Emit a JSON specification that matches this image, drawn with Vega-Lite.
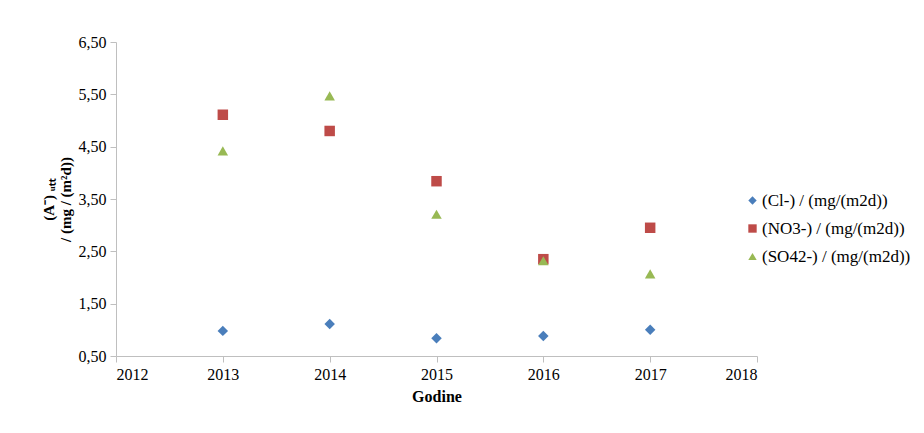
{
  "$schema": "https://vega.github.io/schema/vega-lite/v6.json",
  "autosize": "none",
  "width": 641,
  "height": 314,
  "padding": {"left": 116, "top": 42, "right": 167, "bottom": 77},
  "background": "white",
  "data": {
    "values": [
      {"year": 2013, "series": "(Cl-) / (mg/(m2d))", "value": 0.98},
      {"year": 2014, "series": "(Cl-) / (mg/(m2d))", "value": 1.11},
      {"year": 2015, "series": "(Cl-) / (mg/(m2d))", "value": 0.84},
      {"year": 2016, "series": "(Cl-) / (mg/(m2d))", "value": 0.88},
      {"year": 2017, "series": "(Cl-) / (mg/(m2d))", "value": 1.00},
      {"year": 2013, "series": "(NO3-) / (mg/(m2d))", "value": 5.11},
      {"year": 2014, "series": "(NO3-) / (mg/(m2d))", "value": 4.80},
      {"year": 2015, "series": "(NO3-) / (mg/(m2d))", "value": 3.84},
      {"year": 2016, "series": "(NO3-) / (mg/(m2d))", "value": 2.35},
      {"year": 2017, "series": "(NO3-) / (mg/(m2d))", "value": 2.95},
      {"year": 2013, "series": "(SO42-) / (mg/(m2d))", "value": 4.42},
      {"year": 2014, "series": "(SO42-) / (mg/(m2d))", "value": 5.47},
      {"year": 2015, "series": "(SO42-) / (mg/(m2d))", "value": 3.21},
      {"year": 2016, "series": "(SO42-) / (mg/(m2d))", "value": 2.32},
      {"year": 2017, "series": "(SO42-) / (mg/(m2d))", "value": 2.07}
    ]
  },
  "mark": {"type": "point", "filled": true, "opacity": 1},
  "encoding": {
    "x": {
      "field": "year", "type": "quantitative",
      "scale": {"domain": [2012, 2018], "nice": false, "zero": false},
      "axis": {
        "values": [2012, 2013, 2014, 2015, 2016, 2017, 2018],
        "format": "d", "grid": false,
        "title": "Godine", "titleFontWeight": "bold", "titleFontSize": 16,
        "titlePadding": 6
      }
    },
    "y": {
      "field": "value", "type": "quantitative",
      "scale": {"domain": [0.5, 6.5], "nice": false, "zero": false},
      "axis": {
        "values": [0.5, 1.5, 2.5, 3.5, 4.5, 5.5, 6.5],
        "labelExpr": "replace(format(datum.value, '.2f'), '.', ',')",
        "grid": false,
        "title": ["(A⁻) ᵤₜₜ", "/ (mg / (m²d))"],
        "titleFontWeight": "bold", "titleFontSize": 15,
        "titlePadding": 5, "titleLineHeight": 17
      }
    },
    "color": {
      "field": "series", "type": "nominal",
      "scale": {
        "domain": ["(Cl-) / (mg/(m2d))", "(NO3-) / (mg/(m2d))", "(SO42-) / (mg/(m2d))"],
        "range": ["#4a7ebb", "#be4b48", "#98b954"]
      },
      "legend": {
        "title": null, "orient": "none", "legendX": 628, "legendY": 150,
        "labelFont": "Liberation Serif", "labelFontSize": 17, "labelColor": "black",
        "symbolSize": 70, "rowPadding": 10, "labelOffset": 1
      }
    },
    "shape": {
      "field": "series", "type": "nominal",
      "scale": {
        "domain": ["(Cl-) / (mg/(m2d))", "(NO3-) / (mg/(m2d))", "(SO42-) / (mg/(m2d))"],
        "range": ["diamond", "square", "triangle-up"]
      },
      "legend": null
    },
    "size": {"value": 110}
  },
  "config": {
    "font": "Liberation Serif",
    "view": {"stroke": null},
    "axis": {
      "labelFont": "Liberation Serif", "labelFontSize": 16, "labelColor": "black",
      "titleFont": "Liberation Serif", "titleColor": "black",
      "domainColor": "#bfbfbf", "tickColor": "#bfbfbf", "tickSize": 6,
      "labelPadding": 4
    }
  }
}
